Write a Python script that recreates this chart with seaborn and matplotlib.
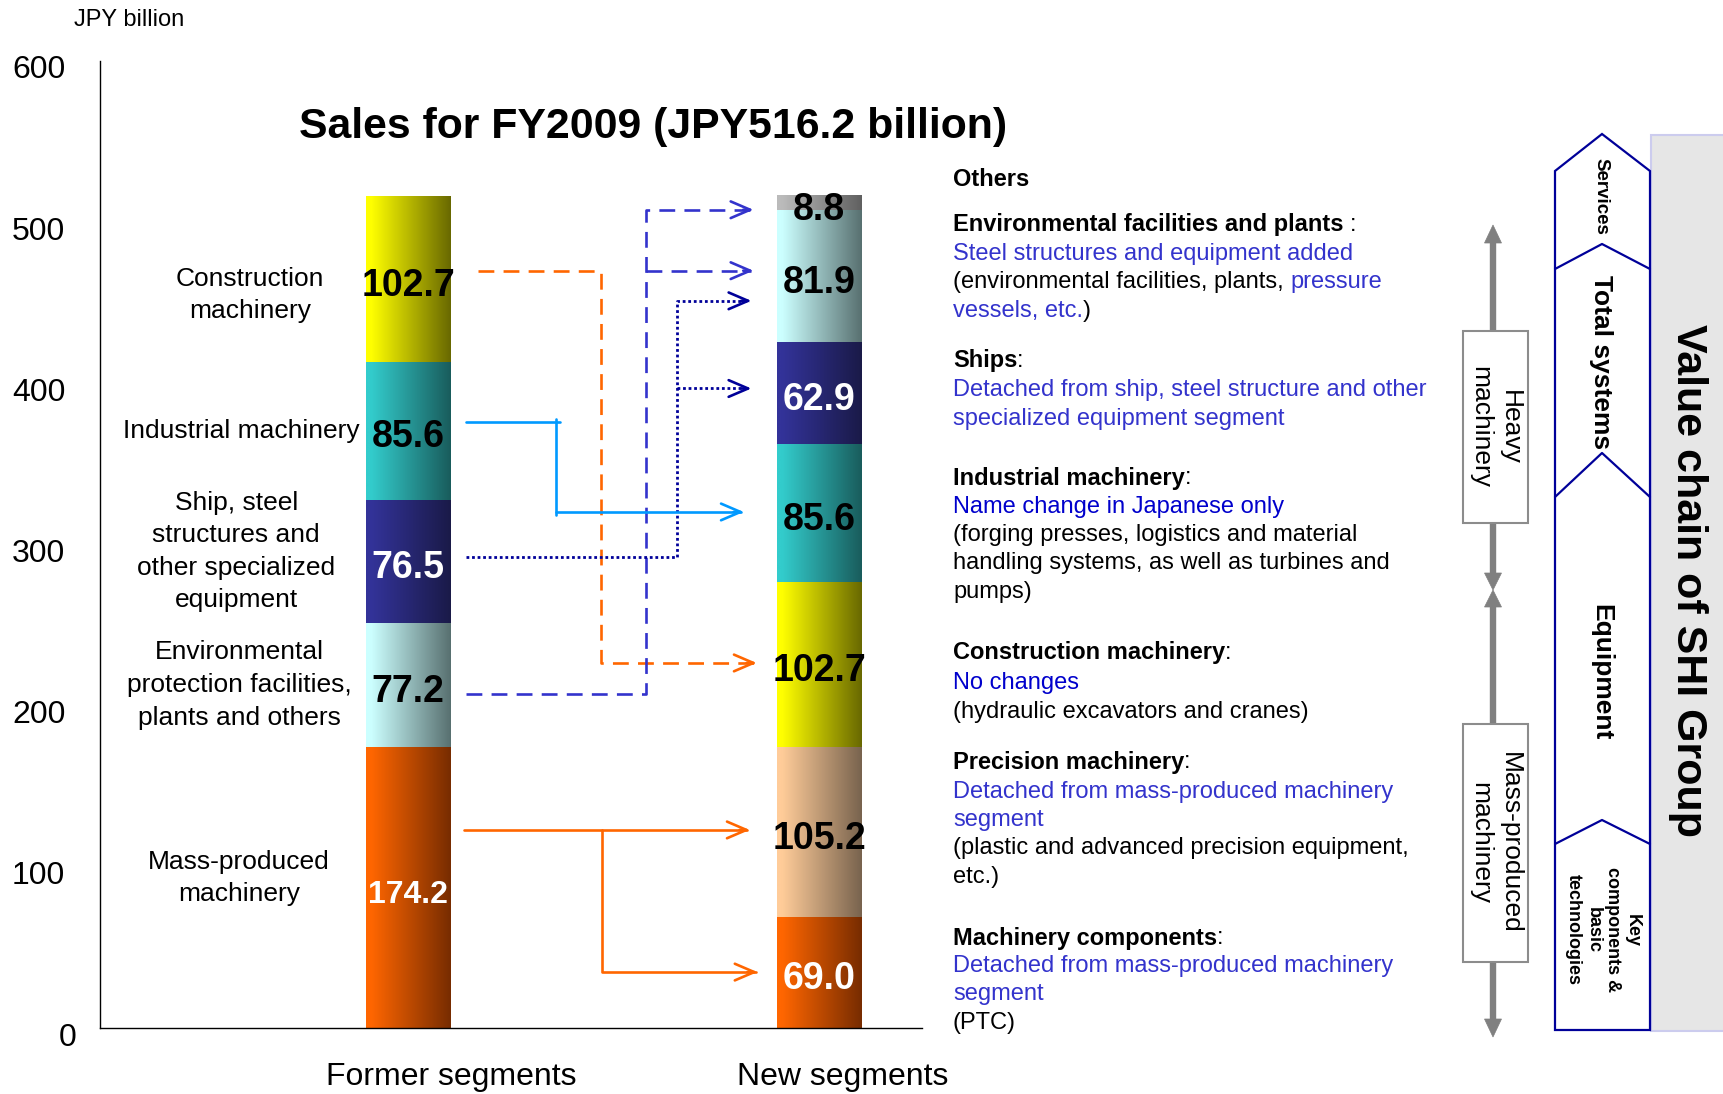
import numpy as np
import pandas as pd
import matplotlib
matplotlib.use("Agg")
import matplotlib.pyplot as plt
import matplotlib.colors as mcolors
import matplotlib.transforms as mtransforms
from matplotlib.patches import Rectangle, Polygon
import seaborn as sns

# --- data (JPY billion) ---
group_labels = ["Former segments", "New segments"]

former_segments = ["Mass-produced machinery", "Environmental protection facilities, plants and others",
                   "Ship, steel structures and other specialized equipment", "Industrial machinery",
                   "Construction machinery"]
former_values = [174.2, 77.2, 76.5, 85.6, 102.7]
former_labels = ["Mass-produced\nmachinery", "Environmental\nprotection facilities,\nplants and others",
                 "Ship, steel\nstructures and\nother specialized\nequipment", "Industrial machinery",
                 "Construction\nmachinery"]

new_segments = ["Machinery components", "Precision machinery", "Construction machinery",
                "Industrial machinery", "Ships", "Environmental facilities and plants", "Others"]
new_values = [69.0, 105.2, 102.7, 85.6, 62.9, 81.9, 8.8]

y_ticks = [0, 100, 200, 300, 400, 500, 600]
title = "Sales for FY2009 (JPY516.2 billion)"

# --- styles ---
shades = {
    "orange": ("#FF6600", "#772C00"),
    "lcyan": ("#CCFFFF", "#587070"),
    "navy": ("#333399", "#1A1A48"),
    "teal": ("#33CCCC", "#195C5C"),
    "yellow": ("#FFFF00", "#686800"),
    "peach": ("#FFCC99", "#78634E"),
    "gray": ("#BBBBBB", "#606060"),
}
former_shades = ["orange", "lcyan", "navy", "teal", "yellow"]
new_shades = ["orange", "peach", "yellow", "teal", "navy", "lcyan", "gray"]
white_text = {"orange", "navy"}
bar_x = [1.5, 3.5]
bar_width = 0.41

sns.set_style("white")
plt.rcParams["font.family"] = ["Liberation Sans", "DejaVu Sans"]
plt.rcParams["text.color"] = "black"
plt.rcParams["xtick.color"] = "black"
plt.rcParams["ytick.color"] = "black"

rows = []
for grp, xpos, segs, vals, shs in [(group_labels[0], bar_x[0], former_segments, former_values, former_shades),
                                   (group_labels[1], bar_x[1], new_segments, new_values, new_shades)]:
    base = 0.0
    for s, v, sh in zip(segs, vals, shs):
        rows.append(dict(group=grp, x=xpos, segment=s, value=v, bottom=base, shade=sh))
        base += v
df = pd.DataFrame(rows)

fig = plt.figure(figsize=(17.24, 10.94), dpi=100)
ax = fig.add_axes([100 / 1724, 66 / 1094, 822 / 1724, 967 / 1094])


def gradient(c0, c1, n=256):
    a = np.array(mcolors.to_rgb(c0))
    b = np.array(mcolors.to_rgb(c1))
    t = np.clip((np.linspace(0, 1, n) - 0.06) / 0.94, 0, 1)[:, None]
    return (a * (1 - t) + b * t)[None, :, :]


for _, r in df.iterrows():
    c0, c1 = shades[r["shade"]]
    sns.barplot(x=[r["x"]], y=[r["value"]], bottom=r["bottom"], native_scale=True, width=bar_width,
                color=c0, saturation=1, errorbar=None, linewidth=0, ax=ax)
    p = ax.patches[-1]
    x0, y0, w, h = p.get_x(), p.get_y(), p.get_width(), p.get_height()
    ax.imshow(gradient(c0, c1), extent=[x0, x0 + w, y0, y0 + h], aspect="auto",
              interpolation="bilinear", zorder=2)
    fs = 23 if r["value"] == 174.2 else 27
    ax.annotate(f"{r['value']:.1f}", xy=(x0 + w / 2, y0 + h / 2), xytext=(0, -5), textcoords="offset points",
                ha="center", va="center", fontsize=fs, fontweight="bold", zorder=5,
                color="white" if r["shade"] in white_text else "black")

# labels to the left of the former bar
label_x = [0.677, 0.677, 0.663, 0.687, 0.731]
label_nudge = [6, 0, 6, 0, -10]
fb = df[df["group"] == group_labels[0]].reset_index(drop=True)
for i, lab in enumerate(former_labels):
    yc = fb.loc[i, "bottom"] + fb.loc[i, "value"] / 2 + label_nudge[i]
    ax.text(label_x[i], yc, lab, ha="center", va="center", fontsize=19, linespacing=1.45,
            color="black", zorder=5)

# axes styling
ax.set_xlim(0, 4)
ax.set_ylim(0, 600)
ax.set_xticks([0, 1, 2, 3, 4])
ax.set_xticklabels([])
ax.set_yticks(y_ticks)
ax.set_yticklabels([str(t) for t in y_ticks])
ax.set_xlabel("")
ax.set_ylabel("")
for sp in ["top", "right"]:
    ax.spines[sp].set_visible(False)
for sp in ["left", "bottom"]:
    ax.spines[sp].set_color("black")
    ax.spines[sp].set_linewidth(1.0)
ax.tick_params(axis="both", direction="in", length=7.5, width=1, colors="black")
ax.tick_params(axis="y", labelsize=23, pad=25, labelcolor="black")
for i, lbl in enumerate(ax.get_yticklabels()):
    dx = 11 if i == 0 else 0
    shift = mtransforms.ScaledTranslation(dx / 100, -6 / 100, fig.dpi_scale_trans)
    lbl.set_transform(lbl.get_transform() + shift)
ax.set_facecolor("none")

ax.text(2.69, 559, title, ha="center", va="center", fontsize=30.8, fontweight="bold",
        color="black", clip_on=False)

# connector arrows between segments
ORANGE, BLUE, NAVY, SKY = "#FF6600", "#3333CC", "#000099", "#0099FF"
dash = (0, (6, 3.5))
dot = (0, (1, 1))


def arrow_head(x, y, color):
    ax.annotate("", xy=(x, y), xytext=(x - 0.05, y),
                arrowprops=dict(arrowstyle="->,head_length=1.4,head_width=0.6", color=color, lw=1.9,
                                shrinkA=0, shrinkB=0, mutation_scale=10), zorder=4)


# construction (orange dashed)
ax.plot([1.84, 2.44, 2.44, 3.19], [469.9, 469.9, 226.5, 226.5], color=ORANGE, lw=1.9, ls=dash, zorder=3)
arrow_head(3.196, 226.5, ORANGE)
# environmental (blue dashed)
ax.plot([1.78, 2.655, 2.655, 3.17], [207.5, 207.5, 507.7, 507.7], color=BLUE, lw=1.9, ls=dash, zorder=3)
ax.plot([2.655, 3.17], [469.9, 469.9], color=BLUE, lw=1.9, ls=dash, zorder=3)
arrow_head(3.18, 507.7, BLUE)
arrow_head(3.18, 469.9, BLUE)
# ships (navy dotted)
ax.plot([1.78, 2.806, 2.806, 3.16], [292.0, 292.0, 451.2, 451.2], color=NAVY, lw=2, ls=dot, zorder=3)
ax.plot([2.806, 3.16], [396.8, 396.8], color=NAVY, lw=2, ls=dot, zorder=3)
arrow_head(3.17, 451.2, NAVY)
arrow_head(3.17, 396.8, NAVY)
# industrial (sky blue)
ax.plot([1.78, 2.24], [376.2, 376.2], color=SKY, lw=1.9, zorder=3)
ax.plot([2.217, 2.217], [377.8, 318.6], color=SKY, lw=1.9, zorder=3)
ax.plot([2.217, 3.12], [320.2, 320.2], color=SKY, lw=1.9, zorder=3)
arrow_head(3.133, 320.2, SKY)
# mass-produced (orange solid)
ax.plot([1.773, 3.15], [122.9, 122.9], color=ORANGE, lw=1.9, zorder=3)
ax.plot([2.441, 2.441, 3.19], [122.9, 34.7, 34.7], color=ORANGE, lw=1.9, zorder=3)
arrow_head(3.162, 122.9, ORANGE)
arrow_head(3.2, 34.7, ORANGE)

# --- overlay in pixel coordinates for the side panels ---
ov = fig.add_axes([0, 0, 1, 1])
ov.set_xlim(0, 1724)
ov.set_ylim(1094, 0)
ov.axis("off")

ov.text(74, 20, "JPY billion", fontsize=17, ha="left", va="center")
ov.text(451, 1077, group_labels[0], fontsize=23, ha="center", va="center")
ov.text(843, 1077, group_labels[1], fontsize=23, ha="center", va="center")

B1, B2, K = "#3333CC", "#0000CC", "black"
notes = [
    (180, [("Others", K, "bold", 0)]),
    (225, [("Environmental facilities and plants", K, "bold", 0), (":", K, "normal", 4.5)]),
    (254, [("Steel structures and equipment added", B1, "normal", 0)]),
    (282, [("(environmental facilities, plants,", K, "normal", 0), ("pressure", B1, "normal", 4.7)]),
    (311, [("vessels, etc.", B1, "normal", 0), (")", K, "normal", 0)]),
    (361, [("Ships", K, "bold", 0), (":", K, "normal", 0)]),
    (390, [("Detached from ship, steel structure and other", B1, "normal", 0)]),
    (419, [("specialized equipment segment", B1, "normal", 0)]),
    (478, [("Industrial machinery", K, "bold", 0), (":", K, "normal", 0)]),
    (507, [("Name change in Japanese only", B2, "normal", 0)]),
    (535, [("(forging presses, logistics and material", K, "normal", 0)]),
    (563, [("handling systems, as well as turbines and", K, "normal", 0)]),
    (592, [("pumps)", K, "normal", 0)]),
    (653, [("Construction machinery", K, "bold", 0), (":", K, "normal", 0)]),
    (683, [("No changes", B2, "normal", 0)]),
    (712, [("(hydraulic excavators and cranes)", K, "normal", 0)]),
    (762, [("Precision machinery", K, "bold", 0), (":", K, "normal", 0)]),
    (792, [("Detached from mass-produced machinery", B1, "normal", 0)]),
    (820, [("segment", B1, "normal", 0)]),
    (848, [("(plastic and advanced precision equipment,", K, "normal", 0)]),
    (877, [("etc.)", K, "normal", 0)]),
    (938, [("Machinery components", K, "bold", 0), (":", K, "normal", 0)]),
    (966, [("Detached from mass-produced machinery", B1, "normal", 0)]),
    (994, [("segment", B1, "normal", 0)]),
    (1023, [("(PTC)", K, "normal", 0)]),
]
for y, parts in notes:
    prev = None
    for txt, col, wt, gap in parts:
        if prev is None:
            prev = ov.text(953, y, txt, color=col, fontweight=wt, fontsize=17, ha="left", va="center")
        else:
            prev = ov.annotate(txt, xy=(1, 0.5), xycoords=prev, xytext=(gap, 0), textcoords="offset points",
                               color=col, fontweight=wt, fontsize=17, ha="left", va="center")

# gray machinery axis with boxes
GRAY = "#808080"
ax_x = 1493
for y0, y1 in [(331, 238), (523, 578), (724, 602), (962, 1024)]:
    ov.plot([ax_x, ax_x], [y0, y1], color=GRAY, lw=4.6, solid_capstyle="butt", zorder=2)
for tip, base in [(225, 243), (590, 573), (590, 607), (1037, 1019)]:
    ov.add_patch(Polygon([(ax_x - 8.5, base), (ax_x + 8.5, base), (ax_x, tip)], closed=True,
                         facecolor=GRAY, edgecolor=GRAY, lw=0.5, zorder=2))
ov.add_patch(Rectangle((1463, 331), 65, 192, facecolor="white", edgecolor="#8C8C8C", lw=1.5, zorder=3))
ov.add_patch(Rectangle((1463, 724), 65, 238, facecolor="white", edgecolor="#8C8C8C", lw=1.5, zorder=3))
ov.text(1495, 427, "Heavy\nmachinery", rotation=270, ha="center", va="center", fontsize=19,
        multialignment="center", linespacing=1.3, zorder=4)
ov.text(1495, 843, "Mass-produced\nmachinery", rotation=270, ha="center", va="center", fontsize=19,
        multialignment="center", linespacing=1.3, zorder=4)

# value chain column
EDGE = "#000099"
ov.add_patch(Polygon([(1555, 1030), (1555, 171), (1602, 134), (1650, 171), (1650, 1030)],
                     closed=True, facecolor="white", edgecolor=EDGE, lw=1.6, zorder=2))
for yside, ypeak in [(269, 244), (497, 453), (844, 820)]:
    ov.plot([1555, 1602, 1650], [yside, ypeak, yside], color=EDGE, lw=1.6, zorder=3)
ov.text(1601, 196, "Services", rotation=270, ha="center", va="center", fontsize=13.5, fontweight="bold")
ov.text(1601, 362, "Total systems", rotation=270, ha="center", va="center", fontsize=19, fontweight="bold")
ov.text(1601, 672, "Equipment", rotation=270, ha="center", va="center", fontsize=19, fontweight="bold")
ov.text(1603, 930, "Key\ncomponents &\nbasic\ntechnologies", rotation=270, ha="center", va="center",
        fontsize=13, fontweight="bold", multialignment="center", linespacing=1.2)

ov.add_patch(Rectangle((1651, 135), 80, 896, facecolor="#E6E6E6", edgecolor="#CCCCEE", lw=1.5, zorder=1))
ov.text(1688, 581, "Value chain of SHI Group", rotation=270, ha="center", va="center",
        fontsize=31, fontweight="bold")

fig.savefig("out.png", dpi=100)
